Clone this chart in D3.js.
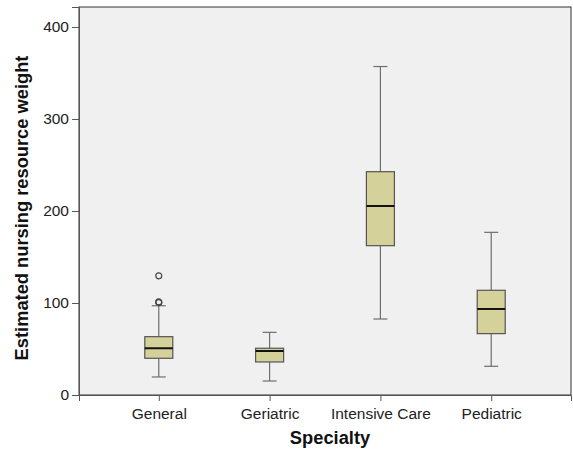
<!DOCTYPE html>
<html>
<head>
<meta charset="utf-8">
<script src="https://cdn.jsdelivr.net/npm/d3@7"></script>
<style>
  body { margin: 0; background: #fff; }
  text { font-family: Arial, "Liberation Sans", sans-serif; }
</style>
</head>
<body>
<div id="chart"></div>
<script>
// box plot stats
let specialties = ["General", "Geriatric", "Intensive Care", "Pediatric"];
let lowWhisker  = [19.6, 15.2, 82.6, 31.2];
let q1          = [39.9, 35.9, 162.3, 66.7];
let medians     = [50.8, 47.8, 205.4, 93.5];
let q3          = [63.4, 50.8, 242.7, 113.8];
let highWhisker = [97, 68.1, 357, 176.8];
let outliers    = [[129.5, 100.5, 101.2], [], [], []];
let yTicks = [0, 100, 200, 300, 400];

let margin = {top: 7, right: 2, bottom: 54, left: 79},
    width = 573 - margin.left - margin.right,
    height = 449 - margin.top - margin.bottom;

let svg = d3.select("#chart")
  .append("svg")
  .attr("width", 573)
  .attr("height", 449)
  .append("g")
  .attr("transform", "translate(" + margin.left + "," + margin.top + ")");

let x = d3.scalePoint()
  .domain(specialties)
  .range([0, width])
  .padding(0.72);

let y = d3.scaleLinear()
  .domain([0, 421.7])
  .range([height, 0]);

// plot background
svg.append("rect")
  .attr("width", width)
  .attr("height", height)
  .attr("fill", "#f0f0f0")
  .attr("stroke", "#333")
  .attr("stroke-width", 1);

// axes
let yAxis = svg.append("g")
  .call(d3.axisLeft(y).tickValues(yTicks).tickSize(7).tickPadding(3));
let xAxis = svg.append("g")
  .attr("transform", "translate(0," + height + ")")
  .call(d3.axisBottom(x).tickSize(6).tickPadding(7));

[yAxis, xAxis].forEach(a => {
  a.attr("font-size", null);
  a.select(".domain").attr("stroke", "#555");
  a.selectAll(".tick line").attr("stroke", "#555");
  a.selectAll(".tick text")
    .style("font-size", "15.5px")
    .attr("fill", "#222")
    .style("font-family", "Arial, 'Liberation Sans', sans-serif");
});

let boxW = 28, capW = 14;
let stats = specialties.map((s, i) => ({
  s: s, lo: lowWhisker[i], q1: q1[i], med: medians[i], q3: q3[i], hi: highWhisker[i], out: outliers[i]
}));

let g = svg.selectAll(".box")
  .data(stats)
  .enter()
  .append("g")
  .attr("class", "box")
  .attr("transform", d => "translate(" + x(d.s) + ",0)");

// whiskers
g.append("line")
  .attr("y1", d => y(d.hi)).attr("y2", d => y(d.q3))
  .attr("stroke", "#6e6e6e").attr("stroke-width", 1.2);
g.append("line")
  .attr("y1", d => y(d.q1)).attr("y2", d => y(d.lo))
  .attr("stroke", "#6e6e6e").attr("stroke-width", 1.2);
g.append("line")
  .attr("x1", -capW / 2).attr("x2", capW / 2)
  .attr("y1", d => y(d.hi)).attr("y2", d => y(d.hi))
  .attr("stroke", "#6e6e6e").attr("stroke-width", 1.2);
g.append("line")
  .attr("x1", -capW / 2).attr("x2", capW / 2)
  .attr("y1", d => y(d.lo)).attr("y2", d => y(d.lo))
  .attr("stroke", "#6e6e6e").attr("stroke-width", 1.2);

// box
g.append("rect")
  .attr("x", -boxW / 2)
  .attr("width", boxW)
  .attr("y", d => y(d.q3))
  .attr("height", d => y(d.q1) - y(d.q3))
  .attr("fill", "#d4d19a")
  .attr("stroke", "#555")
  .attr("stroke-width", 1.2);

// median
g.append("line")
  .attr("x1", -boxW / 2).attr("x2", boxW / 2)
  .attr("y1", d => y(d.med)).attr("y2", d => y(d.med))
  .attr("stroke", "#111").attr("stroke-width", 2);

// outliers
g.selectAll("circle")
  .data(d => d.out)
  .enter()
  .append("circle")
  .attr("cy", d => y(d))
  .attr("r", 3)
  .attr("fill", "none")
  .attr("stroke", "#444")
  .attr("stroke-width", 1.2);

// axis titles
svg.append("text")
  .attr("x", width / 2 + 5)
  .attr("y", height + 49)
  .attr("text-anchor", "middle")
  .attr("font-size", "18.3px")
  .attr("font-weight", "bold")
  .attr("fill", "#111")
  .text("Specialty");

svg.append("text")
  .attr("transform", "rotate(-90)")
  .attr("x", -height / 2 - 7)
  .attr("y", -51)
  .attr("text-anchor", "middle")
  .attr("font-size", "18.3px")
  .attr("font-weight", "bold")
  .attr("fill", "#111")
  .text("Estimated nursing resource weight");
</script>
</body>
</html>
